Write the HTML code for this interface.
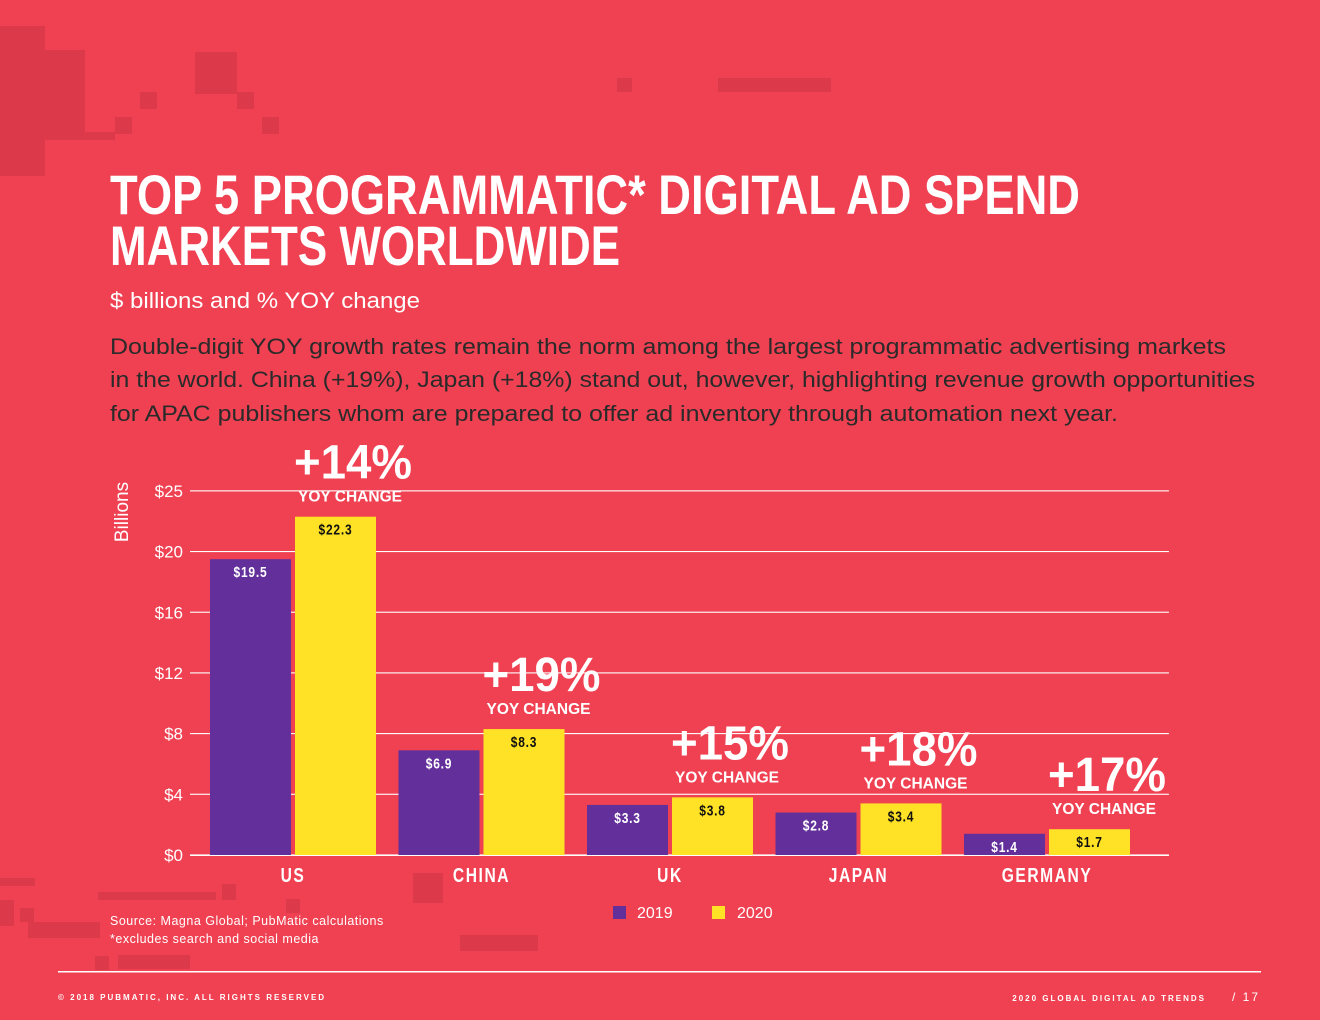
<!DOCTYPE html>
<html><head><meta charset="utf-8"><style>
html,body{margin:0;padding:0;background:#EF4152;}
svg{display:block;font-family:"Liberation Sans",sans-serif;}
.n{font-family:"Liberation Sans Narrow","Liberation Sans",sans-serif;}
</style></head><body>
<svg id="chart" width="1320" height="1020" viewBox="0 0 1320 1020" xmlns="http://www.w3.org/2000/svg">
<rect width="1320" height="1020" fill="#EF4152"/>
<g fill="#DC3A4B">
<rect x="0" y="26" width="45" height="150"/><rect x="45" y="50" width="40" height="82"/><rect x="45" y="132" width="70" height="8"/>
<rect x="140" y="92" width="17" height="17"/><rect x="115" y="117" width="17" height="17"/>
<rect x="195" y="52" width="42" height="42"/><rect x="237" y="92" width="17" height="17"/><rect x="262" y="117" width="17" height="17"/>
<rect x="617" y="78" width="15" height="14"/><rect x="718" y="78" width="113" height="14"/>
<rect x="0" y="878" width="35" height="8"/><rect x="0" y="900" width="14" height="26"/><rect x="20" y="908" width="14" height="14"/>
<rect x="28" y="922" width="72" height="16"/><rect x="98" y="892" width="118" height="8"/><rect x="222" y="884" width="14" height="16"/>
<rect x="286" y="899" width="14" height="14"/><rect x="95" y="956" width="14" height="14"/><rect x="118" y="955" width="72" height="14"/>
<rect x="413" y="873" width="30" height="30"/><rect x="460" y="935" width="78" height="16"/>
</g>
<text class="n" x="110" y="214" font-size="56" font-weight="bold" fill="#fff" textLength="970" lengthAdjust="spacingAndGlyphs">TOP 5 PROGRAMMATIC* DIGITAL AD SPEND</text>
<text class="n" x="110" y="265" font-size="56" font-weight="bold" fill="#fff" textLength="510" lengthAdjust="spacingAndGlyphs">MARKETS WORLDWIDE</text>
<text x="110" y="308" font-size="22" fill="#fff" textLength="310" lengthAdjust="spacingAndGlyphs">$ billions and % YOY change</text>
<g font-size="22" fill="#2a2a2a">
<text x="110" y="354" textLength="1116" lengthAdjust="spacingAndGlyphs">Double-digit YOY growth rates remain the norm among the largest programmatic advertising markets</text>
<text x="110" y="387" textLength="1145" lengthAdjust="spacingAndGlyphs">in the world. China (+19%), Japan (+18%) stand out, however, highlighting revenue growth opportunities</text>
<text x="110" y="421" textLength="1008" lengthAdjust="spacingAndGlyphs">for APAC publishers whom are prepared to offer ad inventory through automation next year.</text>
</g>
<text transform="translate(128,512) rotate(-90)" text-anchor="middle" font-size="19" fill="#fff">Billions</text>
<g id="grid"></g><g id="bars"></g>
<g>
<rect x="613" y="906" width="13" height="13" fill="#63309B"/>
<text x="637" y="918" font-size="16" fill="#fff">2019</text>
<rect x="712" y="906" width="13" height="13" fill="#FFE225"/>
<text x="737" y="918" font-size="16" fill="#fff">2020</text>
</g>
<text x="110" y="925" font-size="12.5" fill="#fff" letter-spacing="0.5">Source: Magna Global; PubMatic calculations</text>
<text x="110" y="943" font-size="12.5" fill="#fff" letter-spacing="0.5">*excludes search and social media</text>
<rect x="58" y="971" width="1203" height="1.5" fill="#fff"/>
<text x="58" y="1000" font-size="8" font-weight="bold" fill="#fff" letter-spacing="2">© 2018 PUBMATIC, INC. ALL RIGHTS RESERVED</text>
<text x="1206" y="1001" text-anchor="end" font-size="8" font-weight="bold" fill="#fff" letter-spacing="2">2020 GLOBAL DIGITAL AD TRENDS</text>
<text x="1260" y="1001" text-anchor="end" font-size="12" fill="#fff" letter-spacing="2">/  17</text>
</svg>
<script>
const categories = ["US","CHINA","UK","JAPAN","GERMANY"];
const values2019 = [19.5, 6.9, 3.3, 2.8, 1.4];
const values2020 = [22.3, 8.3, 3.8, 3.4, 1.7];
const yoyChange = ["+14%","+19%","+15%","+18%","+17%"];
const tickValues = [0,4,8,12,16,20,24];
const tickLabels = ["$0","$4","$8","$12","$16","$20","$25"];

const NS = "http://www.w3.org/2000/svg";
const y0 = 855, pxPer = 15.17;
function yScale(v){ return y0 - v*pxPer; }
function xGroup(i){ return 210 + i*188.5; }
const bw = 81, gap = 4;
function mk(tag, attrs, parent, text){
  const e = document.createElementNS(NS, tag);
  for (const k in attrs) e.setAttribute(k, attrs[k]);
  if (text !== undefined) e.textContent = text;
  parent.appendChild(e); return e;
}
function narrow(x, y, sx, attrs, parent, text){
  attrs.x = 0; attrs.y = 0;
  attrs.transform = "translate(" + x + "," + y + ") scale(" + sx + ",1)";
  return mk("text", attrs, parent, text);
}
const grid = document.getElementById("grid");
tickValues.forEach((t, i) => {
  const y = yScale(t);
  const ln = mk("rect", {x:190, y:y-0.6, width:979, height: t===0?1.6:1.1, fill:"#fff"}, grid);
  
  
  const tx = mk("text", {x:183, y:y+6, "text-anchor":"end", "font-size":17, fill:"#fff"}, grid, tickLabels[i]);
  
  
});
const bars = document.getElementById("bars");
categories.forEach((c, i) => {
  const x = xGroup(i);
  const a = values2019[i], b = values2020[i];
  const r1 = mk("rect", {x:x, y:yScale(a), width:bw, height:a*pxPer, fill:"#63309B"}, bars);
  
  
  const r2 = mk("rect", {x:x+bw+gap, y:yScale(b), width:bw, height:b*pxPer, fill:"#FFE225"}, bars);
  
  
  const l1 = narrow(x+bw/2, yScale(a)+18, 0.8, {"text-anchor":"middle", "font-size":15, "font-weight":"bold", fill:"#fff", "letter-spacing":1}, bars, "$"+a.toFixed(1));
  
  
  const l2 = narrow(x+bw+gap+bw/2, yScale(b)+18, 0.8, {"text-anchor":"middle", "font-size":15, "font-weight":"bold", fill:"#111", "letter-spacing":1}, bars, "$"+b.toFixed(1));
  
  
  const px = x+bw+gap;
  const p = mk("text", {x:px-1, y:yScale(b)-38, "font-size":48, "font-weight":"bold", fill:"#fff", class:"n", textLength:118, lengthAdjust:"spacingAndGlyphs"}, bars, yoyChange[i]);
  
  
  const yc = mk("text", {x:px+3, y:yScale(b)-15, "font-size":16, "font-weight":"bold", fill:"#fff", class:"n", textLength:104, lengthAdjust:"spacingAndGlyphs"}, bars, "YOY CHANGE");
  
  
  const cl = narrow(x+bw+gap/2, 882, 0.78, {"text-anchor":"middle", "font-size":20, "font-weight":"bold", fill:"#fff", "letter-spacing":2}, bars, c);
  
  
});
</script>
</body></html>
